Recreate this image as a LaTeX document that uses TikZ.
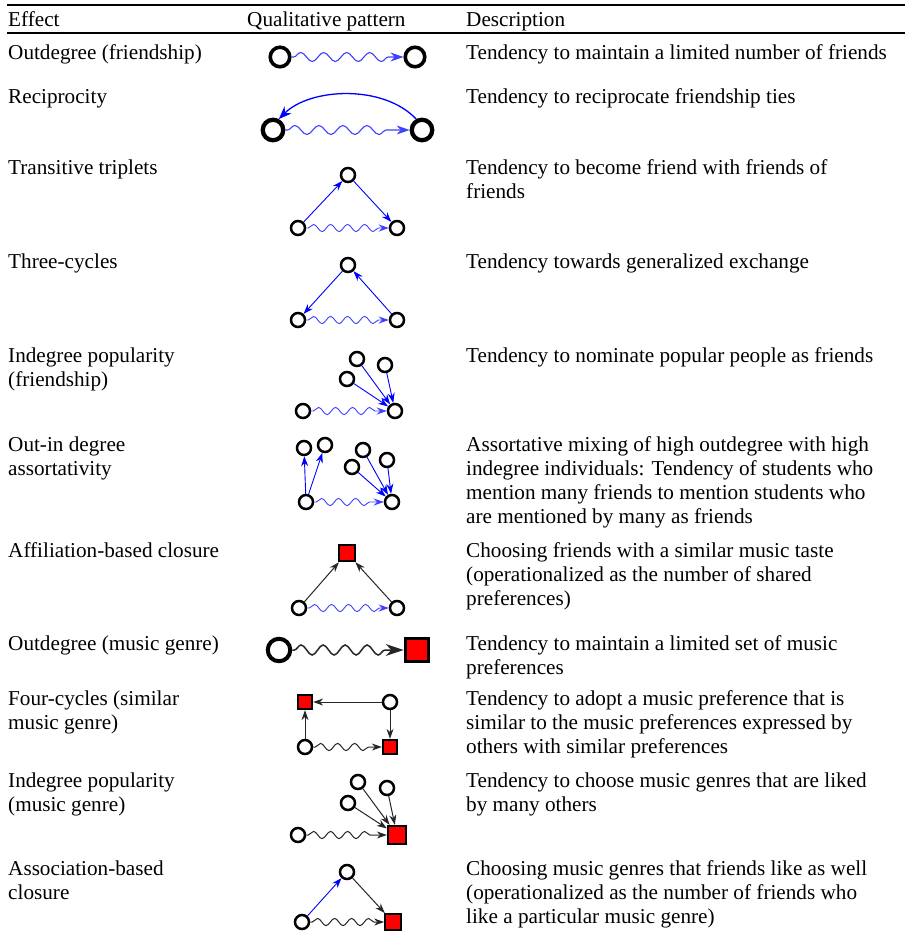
\documentclass[tikz,border=0pt]{standalone}
\usepackage{fontspec}
\setmainfont{Liberation Serif}
\usetikzlibrary{arrows.meta,decorations.pathmorphing}
\newcommand\rowfont{\rmfamily\fontsize{21.2}{24}\selectfont}
\tikzset{cell/.style={anchor=north west, yshift=16.8pt, inner sep=0pt, align=left, font=\rowfont},
  actor/.style={circle, draw=black, line width=2.5pt, minimum size=14pt, inner sep=0pt},
  bigactor/.style={actor, line width=3.6pt, minimum size=19.5pt},
  genre/.style={rectangle, draw=black, fill=red, line width=1.8pt, minimum size=15pt, inner sep=0pt},
  friend/.style={draw=blue, line width=0.9pt, -{Stealth[length=10pt,width=7pt]}},
  likes/.style={draw=black!85, line width=1pt, -{Stealth[length=10pt,width=7pt]}},
  wave/.style={decorate, decoration={snake, amplitude=3.6pt, segment length=17pt, pre length=2pt, post length=9pt}},
  bluewave/.style={wave, draw=blue!75, line width=0.9pt, -{Stealth[length=10pt,width=7pt]}},
  blackwave/.style={wave, draw=black!85, line width=1pt, -{Stealth[length=10pt,width=7pt]}}}

\begin{document}
\begin{tikzpicture}[x=1pt, y=-1pt]
  \useasboundingbox (0,0) rectangle (905,932);
  % rules
  \draw[line width=1.3pt] (7,5) -- (905,5);
  \draw[line width=2.2pt] (7,33) -- (905,33);
  % header
  \node[cell] (hd1) at (8,26) {\strut Effect};
  \node[cell] (hd2) at (247,26) {\strut Qualitative pattern};
  \node[cell] (hd3) at (466,26) {\strut Description};
  % effects and descriptions
  \node[cell] (ef1) at (8,59) {\strut Outdegree (friendship)};
  \node[cell] (ds1) at (466,59) {\strut Tendency to maintain a limited number of friends};
  \node[cell] (ef2) at (8,103) {\strut Reciprocity};
  \node[cell] (ds2) at (466,103) {\strut Tendency to reciprocate friendship ties};
  \node[cell] (ef3) at (8,174) {\strut Transitive triplets};
  \node[cell] (ds3) at (466,174) {\strut Tendency to become friend with friends of\\friends};
  \node[cell] (ef4) at (8,268) {\strut Three-cycles};
  \node[cell] (ds4) at (466,268) {\strut Tendency towards generalized exchange};
  \node[cell] (ef5) at (8,362) {\strut Indegree popularity\\(friendship)};
  \node[cell] (ds5) at (466,362) {\strut Tendency to nominate popular people as friends};
  \node[cell] (ef6) at (8,451) {\strut Out-in degree\\assortativity};
  \node[cell] (ds6) at (466,451) {\strut Assortative mixing of high outdegree with high\\indegree individuals: Tendency of students who\\mention many friends to mention students who\\are mentioned by many as friends};
  \node[cell] (ef7) at (8,557) {\strut Affiliation-based closure};
  \node[cell] (ds7) at (466,557) {\strut Choosing friends with a similar music taste\\(operationalized as the number of shared\\preferences)};
  \node[cell] (ef8) at (8,650) {\strut Outdegree (music genre)};
  \node[cell] (ds8) at (466,650) {\strut Tendency to maintain a limited set of music\\preferences};
  \node[cell] (ef9) at (8,705) {\strut Four-cycles (similar\\music genre)};
  \node[cell] (ds9) at (466,705) {\strut Tendency to adopt a music preference that is\\similar to the music preferences expressed by\\others with similar preferences};
  \node[cell] (ef10) at (8,787) {\strut Indegree popularity\\(music genre)};
  \node[cell] (ds10) at (466,787) {\strut Tendency to choose music genres that are liked\\by many others};
  \node[cell] (ef11) at (8,875) {\strut Association-based\\closure};
  \node[cell] (ds11) at (466,875) {\strut Choosing music genres that friends like as well\\(operationalized as the number of friends who\\like a particular music genre)};

  % outdegree (friendship)
  \node[bigactor] (oa) at (280,57) {};
  \node[bigactor] (ob) at (415,57) {};
  \draw[bluewave, line width=1.1pt, decoration={amplitude=4.5pt, segment length=23pt, post length=13pt},
    -{Stealth[length=13pt,width=9pt]}] (oa) -- (ob);
  % reciprocity
  \node[bigactor, line width=4.3pt, minimum size=20.5pt] (ra) at (273,130) {};
  \node[bigactor, line width=4.3pt, minimum size=20.5pt] (rb) at (422,130) {};
  \draw[bluewave, line width=1.1pt, decoration={amplitude=4.5pt, segment length=24pt, post length=13pt},
    -{Stealth[length=13pt,width=9pt]}] (ra) -- (rb);
  \draw[friend, line width=1.3pt, -{Stealth[length=13pt,width=10pt]}]
    (rb.118) .. controls (383,84) and (310,88) .. (ra.62);
  % transitive triplets
  \node[actor] (ta) at (348,175) {};
  \node[actor] (tb) at (298,228) {};
  \node[actor] (tc) at (397,228) {};
  \draw[friend] (tb) -- (ta);
  \draw[friend] (ta) -- (tc);
  \draw[bluewave] (tb) -- (tc);
  % three-cycles
  \node[actor] (ca) at (348,265) {};
  \node[actor] (cb) at (298,320) {};
  \node[actor] (cc) at (397,320) {};
  \draw[friend] (ca) -- (cb);
  \draw[friend] (cc) -- (ca);
  \draw[bluewave] (cb) -- (cc);
  % indegree popularity (friendship)
  \node[actor] (pa) at (357,359) {};
  \node[actor] (pb) at (385,365) {};
  \node[actor] (pc) at (347,379) {};
  \node[actor] (pd) at (303,411) {};
  \node[actor] (pe) at (395,411) {};
  \foreach \n in {pa,pb,pc} \draw[friend] (\n) -- (pe);
  \draw[bluewave] (pd) -- (pe);
  % out-in degree assortativity
  \node[actor] (ma) at (304,448) {};
  \node[actor] (mb) at (325,445) {};
  \node[actor] (mc) at (363,450) {};
  \node[actor] (md) at (387,460) {};
  \node[actor] (me) at (352,467) {};
  \node[actor] (mf) at (306,502) {};
  \node[actor] (mg) at (392,502) {};
  \draw[friend] (mf) -- (ma);
  \draw[friend] (mf) -- (mb);
  \foreach \n in {mc,md,me} \draw[friend] (\n) -- (mg);
  \draw[bluewave] (mf) -- (mg);
  % affiliation-based closure
  \node[genre, minimum size=16.5pt, line width=2pt] (fa) at (347,553) {};
  \node[actor] (fb) at (299,608) {};
  \node[actor] (fc) at (397,608) {};
  \draw[likes] (fb) -- (fa);
  \draw[likes] (fc) -- (fa);
  \draw[bluewave] (fb) -- (fc);
  % outdegree (music genre)
  \node[bigactor, line width=4pt, minimum size=22.5pt] (ga) at (279,650) {};
  \node[genre, line width=3.3pt, minimum size=23.5pt] (gb) at (417,650) {};
  \draw[blackwave, line width=1.5pt, decoration={amplitude=5pt, segment length=22pt, post length=16pt},
    -{Stealth[length=18pt,width=12pt]}] (ga) -- (gb);
  % four-cycles
  \node[genre, minimum size=14.5pt] (qa) at (305,702) {};
  \node[actor] (qb) at (390,702) {};
  \node[actor] (qc) at (305,747) {};
  \node[genre, minimum size=14.5pt] (qd) at (390,747) {};
  \draw[likes] (qb) -- (qa);
  \draw[likes] (qb) -- (qd);
  \draw[likes] (qc) -- (qa);
  \draw[blackwave] (qc) -- (qd);
  % indegree popularity (music genre)
  \node[actor] (ia) at (358,782) {};
  \node[actor] (ib) at (387,788) {};
  \node[actor] (ic) at (348,803) {};
  \node[actor] (id) at (298,835) {};
  \node[genre, minimum size=18.5pt] (ie) at (397,835) {};
  \foreach \n in {ia,ib,ic} \draw[likes] (\n) -- (ie);
  \draw[blackwave] (id) -- (ie);
  % association-based closure
  \node[actor] (sa) at (347,872) {};
  \node[actor] (sb) at (302,922) {};
  \node[genre, minimum size=16pt] (sc) at (393,922) {};
  \draw[friend] (sb) -- (sa);
  \draw[likes] (sa) -- (sc);
  \draw[blackwave] (sb) -- (sc);
\end{tikzpicture}
\end{document}
